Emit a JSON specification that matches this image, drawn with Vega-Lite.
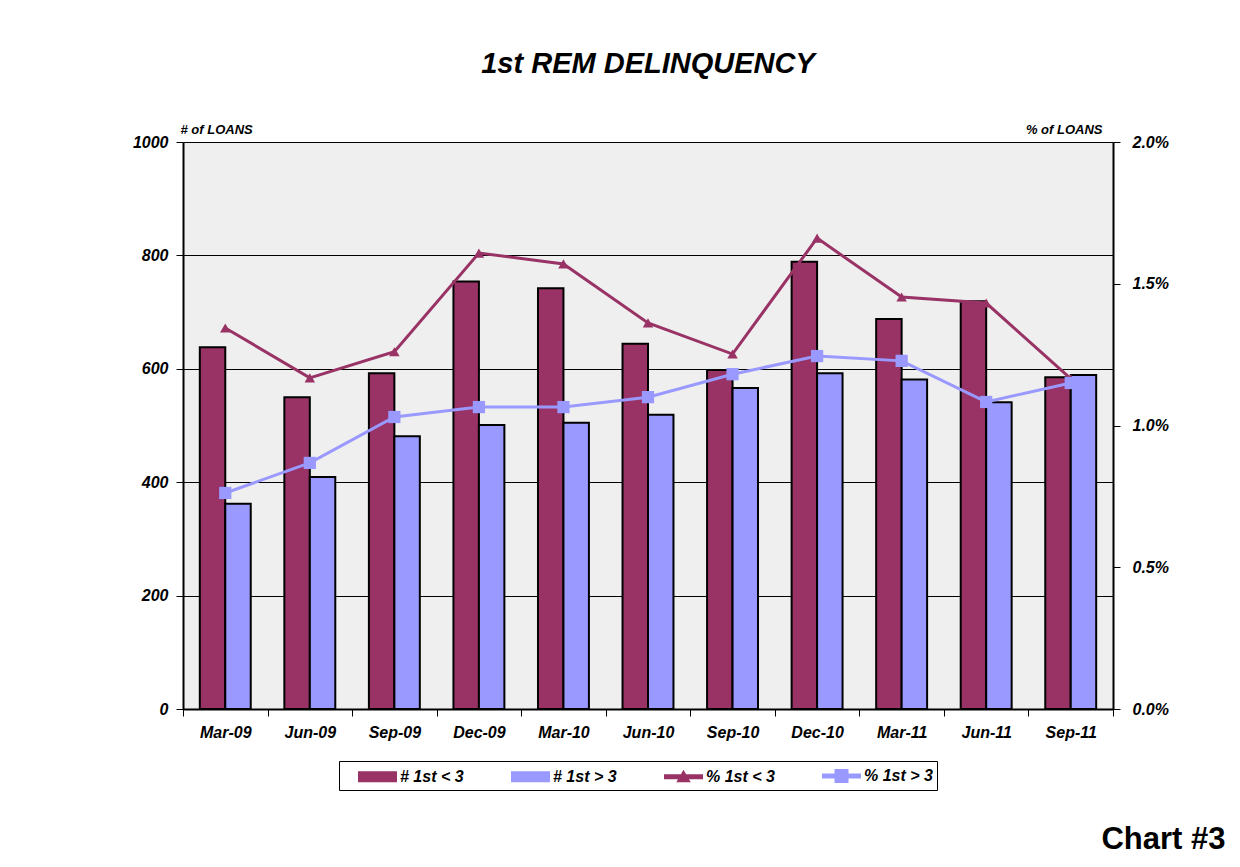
{
  "$schema": "https://vega.github.io/schema/vega-lite/v6.json",
  "width": 930,
  "height": 567,
  "autosize": {"type": "none"},
  "padding": {"left": 183, "top": 142, "right": 127, "bottom": 158},
  "background": "white",
  "title": {
    "text": "1st REM DELINQUENCY",
    "font": "Liberation Sans",
    "fontSize": 29,
    "fontWeight": "bold",
    "fontStyle": "italic",
    "color": "black",
    "anchor": "middle",
    "baseline": "alphabetic",
    "offset": 21
  },
  "datasets": {
    "bars": [
      {"month": "Mar-09", "series": "# 1st < 3", "count": 638},
      {"month": "Mar-09", "series": "# 1st > 3", "count": 362},
      {"month": "Jun-09", "series": "# 1st < 3", "count": 550},
      {"month": "Jun-09", "series": "# 1st > 3", "count": 409},
      {"month": "Sep-09", "series": "# 1st < 3", "count": 592},
      {"month": "Sep-09", "series": "# 1st > 3", "count": 481},
      {"month": "Dec-09", "series": "# 1st < 3", "count": 754},
      {"month": "Dec-09", "series": "# 1st > 3", "count": 501},
      {"month": "Mar-10", "series": "# 1st < 3", "count": 742},
      {"month": "Mar-10", "series": "# 1st > 3", "count": 505},
      {"month": "Jun-10", "series": "# 1st < 3", "count": 644},
      {"month": "Jun-10", "series": "# 1st > 3", "count": 519},
      {"month": "Sep-10", "series": "# 1st < 3", "count": 598},
      {"month": "Sep-10", "series": "# 1st > 3", "count": 566},
      {"month": "Dec-10", "series": "# 1st < 3", "count": 789},
      {"month": "Dec-10", "series": "# 1st > 3", "count": 592},
      {"month": "Mar-11", "series": "# 1st < 3", "count": 688},
      {"month": "Mar-11", "series": "# 1st > 3", "count": 581},
      {"month": "Jun-11", "series": "# 1st < 3", "count": 719},
      {"month": "Jun-11", "series": "# 1st > 3", "count": 541},
      {"month": "Sep-11", "series": "# 1st < 3", "count": 585},
      {"month": "Sep-11", "series": "# 1st > 3", "count": 589}
    ],
    "lines": [
      {"month": "Mar-09", "series": "% 1st < 3", "pct": 0.01344},
      {"month": "Jun-09", "series": "% 1st < 3", "pct": 0.01168},
      {"month": "Sep-09", "series": "% 1st < 3", "pct": 0.01260},
      {"month": "Dec-09", "series": "% 1st < 3", "pct": 0.01608},
      {"month": "Mar-10", "series": "% 1st < 3", "pct": 0.01570},
      {"month": "Jun-10", "series": "% 1st < 3", "pct": 0.01362},
      {"month": "Sep-10", "series": "% 1st < 3", "pct": 0.01252},
      {"month": "Dec-10", "series": "% 1st < 3", "pct": 0.01661},
      {"month": "Mar-11", "series": "% 1st < 3", "pct": 0.01453},
      {"month": "Jun-11", "series": "% 1st < 3", "pct": 0.01432},
      {"month": "Sep-11", "series": "% 1st < 3", "pct": 0.01165},
      {"month": "Mar-09", "series": "% 1st > 3", "pct": 0.00762},
      {"month": "Jun-09", "series": "% 1st > 3", "pct": 0.00868},
      {"month": "Sep-09", "series": "% 1st > 3", "pct": 0.01030},
      {"month": "Dec-09", "series": "% 1st > 3", "pct": 0.01065},
      {"month": "Mar-10", "series": "% 1st > 3", "pct": 0.01065},
      {"month": "Jun-10", "series": "% 1st > 3", "pct": 0.01100},
      {"month": "Sep-10", "series": "% 1st > 3", "pct": 0.01181},
      {"month": "Dec-10", "series": "% 1st > 3", "pct": 0.01245},
      {"month": "Mar-11", "series": "% 1st > 3", "pct": 0.01228},
      {"month": "Jun-11", "series": "% 1st > 3", "pct": 0.01083},
      {"month": "Sep-11", "series": "% 1st > 3", "pct": 0.01150}
    ]
  },
  "encoding": {
    "x": {
      "field": "month",
      "type": "ordinal",
      "sort": ["Mar-09", "Jun-09", "Sep-09", "Dec-09", "Mar-10", "Jun-10", "Sep-10", "Dec-10", "Mar-11", "Jun-11", "Sep-11"],
      "scale": {"paddingInner": 0, "paddingOuter": 0},
      "axis": {
        "labelAngle": 0,
        "tickBand": "extent",
        "tickSize": 7,
        "tickColor": "black",
        "tickWidth": 1,
        "domainColor": "black",
        "domainWidth": 2,
        "labelFont": "Liberation Sans",
        "labelFontSize": 16,
        "labelFontWeight": "bold",
        "labelFontStyle": "italic",
        "labelColor": "black",
        "labelPadding": 8,
        "title": "Chart #3",
        "titleFont": "Liberation Sans",
        "titleFontSize": 31,
        "titleFontWeight": "bold",
        "titleFontStyle": "normal",
        "titleColor": "black",
        "titleAlign": "right",
        "titleBaseline": "alphabetic",
        "titleAnchor": null,
        "titleX": 1042,
        "titleY": 139
      }
    },
    "color": {
      "field": "series",
      "type": "nominal",
      "scale": {
        "domain": ["# 1st < 3", "# 1st > 3", "% 1st < 3", "% 1st > 3"],
        "range": ["#993366", "#9999ff", "#993366", "#9999ff"]
      },
      "legend": {
        "title": null,
        "orient": "none",
        "legendX": 156,
        "legendY": 619,
        "direction": "horizontal",
        "strokeColor": "black",
        "fillColor": "white",
        "padding": 4,
        "symbolSize": 400,
        "symbolType": "M0.5,-0.45H4.2V0.45H0.5Z",
        "symbolStrokeColor": "black",
        "symbolStrokeWidth": 2,
        "labelOffset": 35,
        "columnPadding": 32,
        "labelFont": "Liberation Sans",
        "labelFontSize": 16,
        "labelFontWeight": "bold",
        "labelFontStyle": "italic",
        "labelColor": "black",
        "encode": {
          "symbols": {
            "update": {
              "shape": {"signal": "indexof(datum.value, '#') == 0 ? 'M0.5,-0.45H4.2V0.45H0.5Z' : (indexof(datum.value, '<') > 0 ? 'M0.5,-0.15H4.2V0.15H0.5Z M1.8,0.45L2.35,-0.5L2.9,0.45Z' : 'M0.5,-0.15H4.2V0.15H0.5Z M1.75,-0.6H2.95V0.6H1.75Z')"},
              "fill": {"signal": "indexof(datum.value, '<') > 0 ? '#993366' : '#9999ff'"},
              "stroke": {"signal": "indexof(datum.value, '#') == 0 ? '#000000' : 'transparent'"},
              "strokeOpacity": {"value": 1},
              "fillOpacity": {"value": 1},
              "opacity": {"value": 1}
            }
          }
        }
      }
    }
  },
  "layer": [
    {
      "data": {"name": "bars"},
      "mark": {"type": "bar", "stroke": "black", "strokeWidth": 2},
      "encoding": {
        "xOffset": {
          "field": "series",
          "type": "nominal",
          "sort": ["# 1st < 3", "# 1st > 3"],
          "scale": {"paddingInner": 0, "paddingOuter": 0.66}
        },
        "y": {
          "field": "count",
          "type": "quantitative",
          "scale": {"domain": [0, 1000], "nice": false},
          "axis": {
            "values": [0, 200, 400, 600, 800, 1000],
            "format": "d",
            "grid": true,
            "gridColor": "black",
            "gridWidth": 1,
            "gridOpacity": 1,
            "domainColor": "black",
            "domainWidth": 2,
            "tickColor": "black",
            "tickSize": 7,
            "labelFont": "Liberation Sans",
            "labelFontSize": 16,
            "labelFontWeight": "bold",
            "labelFontStyle": "italic",
            "labelColor": "black",
            "labelPadding": 8,
            "title": "# of LOANS",
            "titleFont": "Liberation Sans",
            "titleFontSize": 13,
            "titleFontWeight": "bold",
            "titleFontStyle": "italic",
            "titleColor": "black",
            "titleAngle": 0,
            "titleAlign": "left",
            "titleBaseline": "alphabetic",
            "titleAnchor": null,
            "titleX": -3,
            "titleY": -9
          }
        }
      }
    },
    {
      "data": {"name": "lines"},
      "layer": [
        {
          "mark": {"type": "line", "strokeWidth": 3},
          "encoding": {
            "y": {
              "field": "pct",
              "type": "quantitative",
              "scale": {"domain": [0, 0.02], "nice": false},
              "axis": {
                "orient": "right",
                "values": [0, 0.005, 0.01, 0.015, 0.02],
                "format": ".1%",
                "grid": false,
                "domainColor": "black",
                "domainWidth": 2,
                "tickColor": "black",
                "tickSize": 7,
                "labelFont": "Liberation Sans",
                "labelFontSize": 16,
                "labelFontWeight": "bold",
                "labelFontStyle": "italic",
                "labelColor": "black",
                "labelPadding": 12,
                "title": "% of LOANS",
                "titleFont": "Liberation Sans",
                "titleFontSize": 13,
                "titleFontWeight": "bold",
                "titleFontStyle": "italic",
                "titleColor": "black",
                "titleAngle": 0,
                "titleAlign": "right",
                "titleBaseline": "alphabetic",
                "titleAnchor": null,
                "titleX": -11,
                "titleY": -9
              }
            }
          }
        },
        {
          "mark": {"type": "point", "filled": true, "opacity": 1},
          "encoding": {
            "y": {"field": "pct", "type": "quantitative"},
            "shape": {
              "field": "series",
              "type": "nominal",
              "scale": {"domain": ["% 1st < 3", "% 1st > 3"], "range": ["triangle-up", "square"]},
              "legend": null
            },
            "size": {
              "field": "series",
              "type": "nominal",
              "scale": {"domain": ["% 1st < 3", "% 1st > 3"], "range": [110, 150]},
              "legend": null
            }
          }
        }
      ]
    }
  ],
  "resolve": {"scale": {"y": "independent"}},
  "config": {
    "view": {"fill": "#efefef", "stroke": null},
    "font": "Liberation Sans"
  }
}
